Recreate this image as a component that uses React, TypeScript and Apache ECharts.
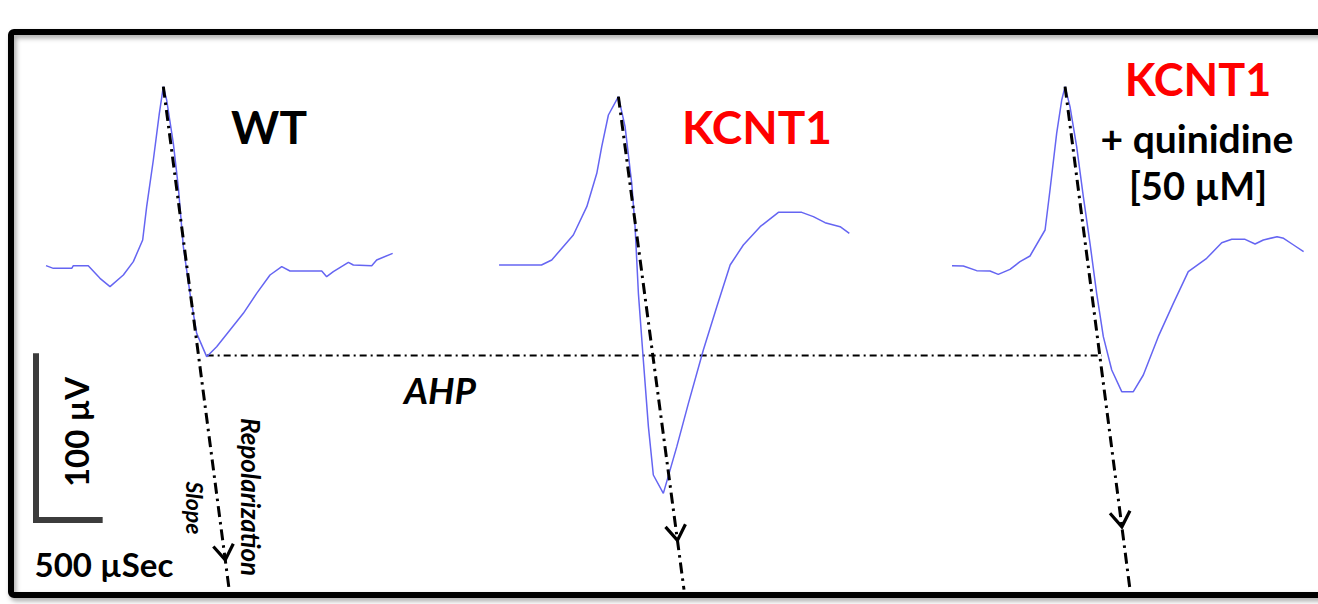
import React, { useEffect, useRef } from "react";
import * as echarts from "echarts";

// ---- Data: time in µs (from start of each sweep), voltage in µV ----
const wtTime = [0, 55, 193, 205, 317, 405, 480, 580, 655, 725, 755, 805, 850, 880, 905, 955, 992, 1030, 1080, 1130, 1205, 1280, 1380, 1480, 1580, 1680, 1768, 1830, 2068, 2105, 2155, 2268, 2305, 2443, 2480, 2600];
const wtVolt = [1.4, -0.2, -0.2, 1.4, 1.4, -6.2, -11.2, -4.2, 3.8, 16.8, 36.8, 64.8, 92.8, 108.8, 100.8, 74.8, 48.8, 12.8, -15.2, -39.2, -53.2, -47.2, -37.2, -27.2, -15.2, -4.2, 0.8, -1.8, -1.8, -5.2, -2.2, 3.4, 1.8, 1.4, 4.8, 8.8];

const kcntTime = [0, 318, 395, 557, 658, 733, 770, 820, 895, 945, 995, 1020, 1045, 1082, 1120, 1157, 1232, 1333, 1420, 1532, 1633, 1733, 1832, 1958, 2095, 2270, 2357, 2445, 2558, 2627];
const kcntVolt = [1.8, 1.8, 4.8, 19.8, 36.8, 56.8, 72.8, 91.8, 102.8, 84.8, 50.8, 24.8, -15.2, -55.2, -95.2, -124.2, -135.2, -107.2, -81.2, -49.2, -23.2, 1.8, 13.8, 24.8, 33.4, 33.4, 30.8, 27.2, 24.8, 20.8];

const quinTime = [0, 85, 185, 285, 347, 435, 510, 585, 698, 735, 785, 823, 848, 885, 935, 985, 1035, 1085, 1135, 1198, 1273, 1360, 1435, 1547, 1660, 1772, 1910, 2023, 2098, 2198, 2273, 2335, 2438, 2487, 2562, 2637];
const quinVolt = [1.4, 1.2, -1.6, -1.8, -3.8, -0.8, 3.8, 7.2, 22.8, 46.8, 80.8, 100.8, 108.8, 96.8, 72.8, 42.8, 14.8, -15.2, -41.2, -61.2, -74.2, -74.2, -64.2, -41.2, -21.2, -2.2, 5.8, 15.2, 17.2, 17.2, 14.4, 16.8, 18.8, 17.8, 13.8, 9.8];

// Repolarization slope lines per sweep: [t start, v start, t end, v end] (µs rel., µV)
const wtSlope = [880, 108.8, 1372, -192];
const kcntSlope = [895, 102.8, 1387, -193];
const quinSlope = [848, 108.8, 1335, -193];
// position of arrowhead along each slope line (fraction)
const arrowFrac = [0.944, 0.9, 0.875];

// AHP reference level (µV) and its end time (µs, absolute)
const ahpLevel = -52.5;
const ahpEndTime = 8265;

// Scale bar values
const scaleV = 100; // µV
const scaleT = 500; // µs

// ---- Layout constants ----
const sweepOffset = [345, 3743, 7140];
const scaleAnchor = [270, -151.2];
const X_MAX = 9885;
const Y_MIN = -201.6;
const Y_MAX = 160.8;

const FONT = "Lato, 'Open Sans', sans-serif";

function shift(ts: number[], vs: number[], off: number) {
  return ts.map((t, i) => [t + off, vs[i]]);
}
function slopeAbs(s: number[], off: number) {
  return [s[0] + off, s[1], s[2] + off, s[3]];
}

export default function App() {
  const ref = useRef<HTMLDivElement>(null);
  useEffect(() => {
    document.body.style.margin = "0";
    if (!ref.current) return;
    const chart = echarts.init(ref.current, undefined, { renderer: "svg" });

    const traceColor = "#6565f2";
    const slopes = [
      slopeAbs(wtSlope, sweepOffset[0]),
      slopeAbs(kcntSlope, sweepOffset[1]),
      slopeAbs(quinSlope, sweepOffset[2]),
    ];
    const dashDot = [11, 5, 2.5, 5];

    const traceSeries = [
      shift(wtTime, wtVolt, sweepOffset[0]),
      shift(kcntTime, kcntVolt, sweepOffset[1]),
      shift(quinTime, quinVolt, sweepOffset[2]),
    ].map((d) => ({
      type: "line",
      data: d,
      symbol: "none",
      silent: true,
      z: 3,
      lineStyle: { color: traceColor, width: 1.5 },
    }));

    const slopeSeries = slopes.map((s) => ({
      type: "line",
      data: [
        [s[0], s[1]],
        [s[2], s[3]],
      ],
      symbol: "none",
      silent: true,
      z: 4,
      lineStyle: { color: "#000", width: 3, type: dashDot, cap: "butt" },
    }));

    const wtTroughIdx = wtVolt.indexOf(Math.min(...wtVolt));
    const ahpSeries = {
      type: "line",
      data: [
        [wtTime[wtTroughIdx] + sweepOffset[0], ahpLevel],
        [ahpEndTime, ahpLevel],
      ],
      symbol: "none",
      silent: true,
      z: 2,
      lineStyle: { color: "#000", width: 2, type: [7, 4, 2, 4] },
    };

    const scaleSeries = {
      type: "line",
      data: [
        [scaleAnchor[0], scaleAnchor[1] + scaleV],
        [scaleAnchor[0], scaleAnchor[1]],
        [scaleAnchor[0] + scaleT, scaleAnchor[1]],
      ],
      symbol: "none",
      silent: true,
      lineStyle: { color: "#3c3c3c", width: 6, join: "miter", cap: "butt" },
    };

    const arrowSeries = {
      type: "custom",
      silent: true,
      z: 5,
      data: slopes.map((s, i) => [s[0], s[1], s[2], s[3], arrowFrac[i]]),
      renderItem: (params: any, api: any) => {
        const p1 = api.coord([api.value(0), api.value(1)]);
        const p2 = api.coord([api.value(2), api.value(3)]);
        const f = api.value(4);
        const tip = [p1[0] + f * (p2[0] - p1[0]), p1[1] + f * (p2[1] - p1[1])];
        const dx = p2[0] - p1[0];
        const dy = p2[1] - p1[1];
        const len = Math.sqrt(dx * dx + dy * dy);
        const bx = -dx / len;
        const by = -dy / len;
        const L = 18;
        const ang = (34 * Math.PI) / 180;
        const rot = (a: number) => [
          tip[0] + L * (bx * Math.cos(a) - by * Math.sin(a)),
          tip[1] + L * (bx * Math.sin(a) + by * Math.cos(a)),
        ];
        return {
          type: "polyline",
          shape: { points: [rot(ang), tip, rot(-ang)] },
          style: { stroke: "#000", lineWidth: 3.2, fill: null, lineJoin: "miter" },
        };
      },
    };

    const txt = (
      text: string,
      x: number,
      y: number,
      size: number,
      color = "#000",
      extra: any = {}
    ) => ({
      type: "text",
      x,
      y,
      rotation: extra.rotation || 0,
      z: 10,
      style: {
        text,
        fill: color,
        font: `${extra.italic ? "italic " : ""}bold ${size}px ${FONT}`,
        align: "center",
        verticalAlign: "middle",
      },
    });

    chart.setOption({
      animation: false,
      grid: { left: 0, right: 0, top: 0, bottom: 0, containLabel: false },
      xAxis: { type: "value", min: 0, max: X_MAX, show: false, splitLine: { show: false } },
      yAxis: { type: "value", min: Y_MIN, max: Y_MAX, show: false, splitLine: { show: false } },
      series: [...traceSeries, ...slopeSeries, ahpSeries, scaleSeries, arrowSeries],
      graphic: [
        {
          type: "rect",
          z: 1,
          shape: { x: 11, y: 32, width: 1400, height: 563, r: 3 },
          style: {
            fill: "none",
            stroke: "#000",
            lineWidth: 6,
            shadowBlur: 5,
            shadowColor: "rgba(0,0,0,0.35)",
            shadowOffsetX: 2,
            shadowOffsetY: 3,
          },
        },
        txt("WT", 269, 126, 46),
        txt("KCNT1", 757, 126, 46, "#ff0000"),
        txt("KCNT1", 1198, 79, 45, "#ff0000"),
        txt("+ quinidine", 1197, 138, 39),
        txt("[50 µM]", 1198, 185, 38),
        txt("AHP", 440, 389, 37, "#000", { italic: true }),
        txt("500 µSec", 104, 564, 33),
        txt("100 µV", 76, 432, 33, "#000", { rotation: Math.PI / 2 }),
        txt("Slope", 195, 508, 23, "#000", { italic: true, rotation: -Math.PI / 2 }),
        txt("Repolarization", 251, 497, 26, "#000", { italic: true, rotation: -Math.PI / 2 }),
      ],
    });
    return () => chart.dispose();
  }, []);
  return <div ref={ref} style={{ width: 1318, height: 604 }} />;
}
